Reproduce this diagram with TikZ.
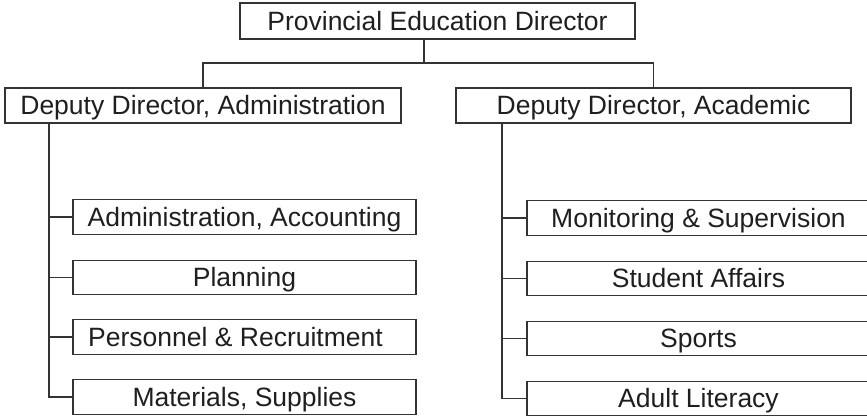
\documentclass[tikz,border=0pt]{standalone}
\usepackage{fontspec}
\setmainfont{Liberation Sans}
\begin{document}
\begin{tikzpicture}[x=1pt,y=-1pt,
  box/.style={draw=black!80, line width=1.3pt, outer sep=0pt, inner sep=0pt,
    font=\fontsize{26.5}{30}\selectfont, text=black!88,
    text height=18.8pt, text depth=0pt, anchor=center},
  topbox/.style={box, minimum width=395pt, minimum height=36pt},
  depbox/.style={box, minimum width=396pt, minimum height=35pt},
  subbox/.style={box, minimum width=343pt, minimum height=34.5pt},
  link/.style={draw=black!80, line width=1.3pt}]
\useasboundingbox (0,0) rectangle (867,417);
\clip (0,0) rectangle (867,417);
\fill[white] (0,0) rectangle (867,417);

\node[topbox] (top) at (437.5,21) {Provincial Education Director};
\node[depbox] (ldep) at (203,105.5) {Deputy Director, Administration};
\node[depbox, minimum width=395pt] (rdep) at (653.5,105.5) {Deputy Director, Academic};

\node[subbox] (l1) at (244.5,217) {Administration, Accounting};
\node[subbox] (l2) at (244.5,277.5) {Planning};
\node[subbox] (l3) at (244.5,337) {Personnel \& Recruitment\kern18pt\relax};
\node[subbox] (l4) at (244.5,397) {Materials, Supplies};

\node[subbox] (r1) at (698.5,218) {Monitoring \& Supervision};
\node[subbox] (r2) at (698.5,278.5) {Student Affairs};
\node[subbox] (r3) at (698.5,338.5) {Sports};
\node[subbox] (r4) at (698.5,398.5) {Adult Literacy};

\coordinate (bus) at (424,63);
\coordinate (lx) at (49,123);
\coordinate (rx) at (502,123);

\draw[link] (top.south -| bus) -- (bus);
\draw[link] (ldep.north) -- (ldep.north |- bus) -- (rdep.north |- bus) -- (rdep.north);

\draw[link] (lx) |- (l4.west);
\draw[link] (lx |- l1.west) -- (l1.west);
\draw[link] (lx |- l2.west) -- (l2.west);
\draw[link] (lx |- l3.west) -- (l3.west);

\draw[link] (rx) |- (r4.west);
\draw[link] (rx |- r1.west) -- (r1.west);
\draw[link] (rx |- r2.west) -- (r2.west);
\draw[link] (rx |- r3.west) -- (r3.west);
\end{tikzpicture}
\end{document}
